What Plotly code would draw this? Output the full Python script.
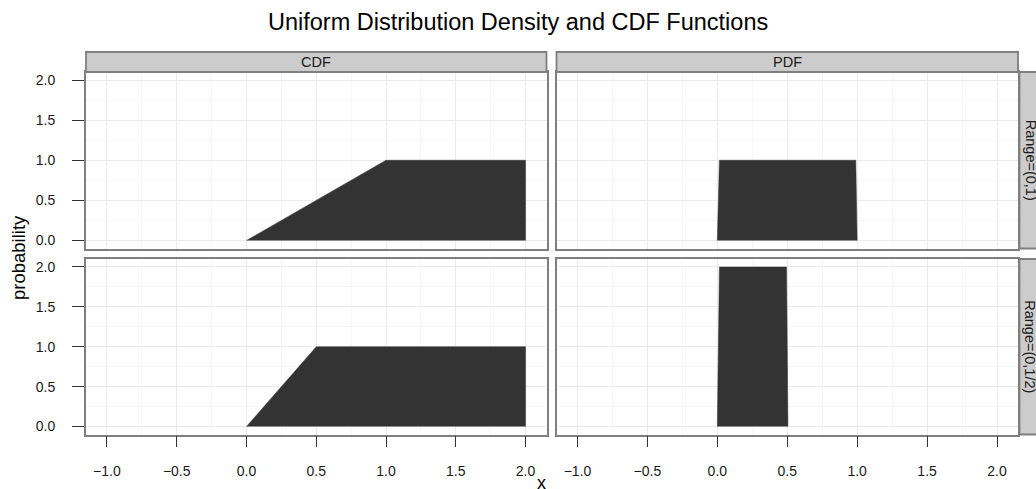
import plotly.graph_objects as go

# ---- data ----
title = "Uniform Distribution Density and CDF Functions"
col_labels = ["CDF", "PDF"]
row_labels = ["Range=(0,1)", "Range=(0,1/2)"]

cdf1_x = [0.0, 1.0, 2.0, 2.0]
cdf1_y = [0.0, 1.0, 1.0, 0.0]
pdf1_x = [0.0, 0.015, 0.99, 1.0]
pdf1_y = [0.0, 1.0, 1.0, 0.0]
cdf2_x = [0.0, 0.5, 2.0, 2.0]
cdf2_y = [0.0, 1.0, 1.0, 0.0]
pdf2_x = [0.0, 0.015, 0.495, 0.505]
pdf2_y = [0.0, 2.0, 2.0, 0.0]

x_ticks = [-1.0, -0.5, 0.0, 0.5, 1.0, 1.5, 2.0]
y_ticks = [0.0, 0.5, 1.0, 1.5, 2.0]

W, H = 1036, 489
def px(v): return v / W
def py(v): return 1 - v / H

FILL = "#333333"
BORDER = "#7f7f7f"
FONT = "Liberation Sans, Arial"

fig = go.Figure()
panels = [
    (cdf1_x, cdf1_y, "x", "y"),
    (pdf1_x, pdf1_y, "x2", "y2"),
    (cdf2_x, cdf2_y, "x3", "y3"),
    (pdf2_x, pdf2_y, "x4", "y4"),
]
for xs, ys, xa, ya in panels:
    fig.add_trace(go.Scatter(x=xs, y=ys, xaxis=xa, yaxis=ya, mode="lines",
                             fill="toself", fillcolor=FILL,
                             line=dict(color=FILL, width=0.5),
                             hoverinfo="skip", showlegend=False))

col_dom = [[px(86), px(546.5)], [px(556.5), px(1018)]]
row_dom = [[py(248.5), py(72)], [py(434.5), py(259)]]

tickfont = dict(family=FONT, size=14, color="#1a1a1a")

def xaxis_def(col, row):
    bottom = row == 1
    anchor = ["y", "y2", "y3", "y4"][row * 2 + col]
    return dict(domain=col_dom[col], anchor=anchor, range=[-1.15, 2.15],
                tickvals=x_ticks, ticktext=[f"{v:.1f}".replace("-", "\u2212") for v in x_ticks],
                showgrid=True, gridcolor="#ebebeb", gridwidth=1.2,
                minor=dict(dtick=0.25, tick0=0, showgrid=True, gridcolor="#f6f6f6", gridwidth=1),
                zeroline=False, showline=True, mirror=True, linecolor=BORDER, linewidth=1.8,
                ticks="outside" if bottom else "", ticklen=11, tickcolor="#333333", tickwidth=1.2,
                showticklabels=bottom, tickfont=tickfont, ticklabelstandoff=12)

def yaxis_def(col, row):
    left = col == 0
    anchor = ["x", "x2", "x3", "x4"][row * 2 + col]
    return dict(domain=row_dom[row], anchor=anchor, range=[-0.1, 2.1],
                tickvals=y_ticks, ticktext=[f"{v:.1f}" for v in y_ticks],
                showgrid=True, gridcolor="#ebebeb", gridwidth=1.2,
                minor=dict(dtick=0.25, tick0=0, showgrid=True, gridcolor="#f6f6f6", gridwidth=1),
                zeroline=False, showline=True, mirror=True, linecolor=BORDER, linewidth=1.8,
                ticks="outside" if left else "", ticklen=12, tickcolor="#333333", tickwidth=1.2,
                showticklabels=left, tickfont=tickfont, ticklabelstandoff=14)

layout = dict(width=W, height=H, autosize=False, margin=dict(l=0, r=0, t=0, b=0),
              paper_bgcolor="white", plot_bgcolor="white", showlegend=False)
names = ["", "2", "3", "4"]
for i in range(4):
    row, col = divmod(i, 2)
    layout["xaxis" + names[i]] = xaxis_def(col, row)
    layout["yaxis" + names[i]] = yaxis_def(col, row)
fig.update_layout(**layout)

shapes = []
annotations = []
# top strips
for c, lab in enumerate(col_labels):
    shapes.append(dict(type="rect", xref="paper", yref="paper",
                       x0=col_dom[c][0], x1=col_dom[c][1], y0=py(72), y1=py(52),
                       fillcolor="#cccccc", line=dict(color=BORDER, width=1.8), layer="above"))
    annotations.append(dict(text=lab, xref="paper", yref="paper",
                            x=(col_dom[c][0] + col_dom[c][1]) / 2, y=py(62),
                            showarrow=False, xanchor="center", yanchor="middle",
                            font=dict(family=FONT, size=14.5, color="#1a1a1a")))
# right strips
for r, lab in enumerate(row_labels):
    shapes.append(dict(type="rect", xref="paper", yref="paper",
                       x0=px(1019.5), x1=px(1045), y0=row_dom[r][0], y1=row_dom[r][1],
                       fillcolor="#cccccc", line=dict(color=BORDER, width=1.8), layer="above"))
    annotations.append(dict(text=lab, xref="paper", yref="paper",
                            x=px(1030.5), y=(row_dom[r][0] + row_dom[r][1]) / 2,
                            showarrow=False, xanchor="center", yanchor="middle", textangle=90,
                            font=dict(family=FONT, size=14.5, color="#1a1a1a")))
# title and axis titles
annotations.append(dict(text=title, xref="paper", yref="paper", x=px(518), y=py(22),
                        showarrow=False, xanchor="center", yanchor="middle",
                        font=dict(family=FONT, size=23.5, color="black")))
annotations.append(dict(text="probability", xref="paper", yref="paper", x=px(18), y=py(258),
                        showarrow=False, xanchor="center", yanchor="middle", textangle=-90,
                        font=dict(family=FONT, size=18.5, color="black")))
annotations.append(dict(text="x", xref="paper", yref="paper", x=px(541), y=py(483),
                        showarrow=False, xanchor="center", yanchor="middle",
                        font=dict(family=FONT, size=18, color="black")))
fig.update_layout(shapes=shapes, annotations=annotations)

fig.write_html("out.html")
